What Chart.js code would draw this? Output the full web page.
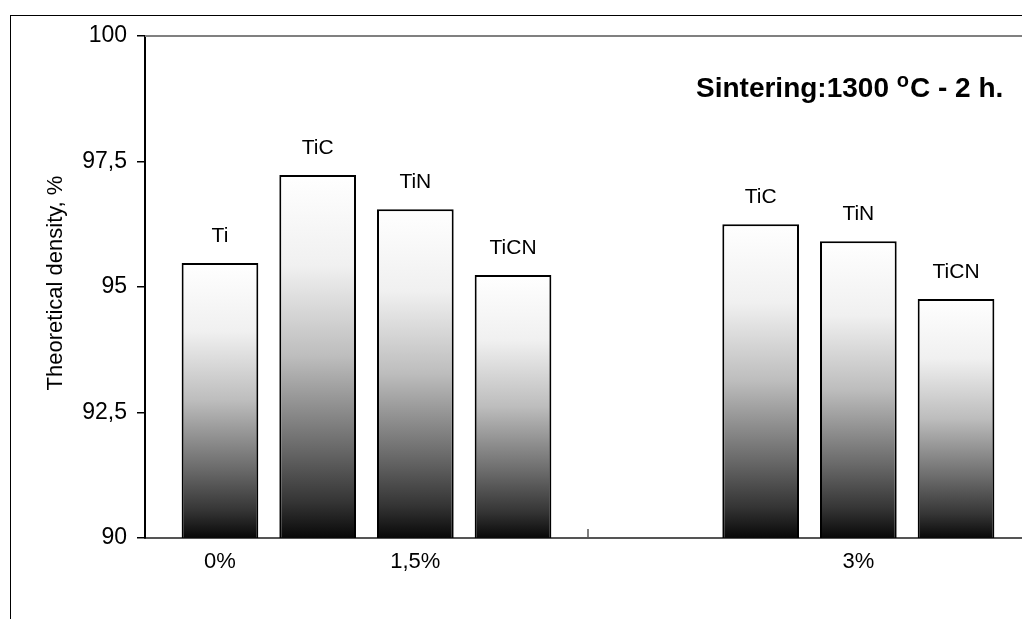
<!DOCTYPE html>
<html>
<head>
<meta charset="utf-8">
<script src="https://cdn.jsdelivr.net/npm/chart.js@4/dist/chart.umd.min.js"></script>
<style>
    html, body { margin: 0; padding: 0; background: #fff; overflow: hidden; }
    #frame {
        position: absolute; left: 10px; top: 15px; width: 1100px; height: 700px;
        border-left: 1.5px solid #000; border-top: 1.5px solid #000;
    }
    #chart { position: absolute; left: 0; top: 0; }
</style>
</head>
<body>
<div id="frame"></div>
<canvas id="chart" width="1060" height="619"></canvas>
<script>
// two clusters on the axis: 0% / 1,5% share the first, 3% is the second
const clusters = ['0% / 1,5%', '3%'];
const materials = ['Ti', 'TiC', 'TiN', 'TiCN'];
const densityTi = [95.48, null];
const densityTiC = [97.23, 96.25];
const densityTiN = [96.55, 95.91];
const densityTiCN = [95.24, 94.76];

// content labels under the bars, anchored at [cluster index, material index]
const contentLabels = ['0%', '1,5%', '3%'];
const contentAnchors = [[0, 0], [0, 2], [1, 2]];

const yTicks = [90, 92.5, 95, 97.5, 100];
const yTitle = 'Theoretical density, %';
const noteText = ['Sintering:1300 ', 'o', 'C - 2 h.'];

const FONT = '"Liberation Sans", Arial, sans-serif';
Chart.defaults.font.family = FONT;
Chart.defaults.color = '#000';

// white at top to black at bottom, per bar
const barGradient = c => {
    const chart = c.chart;
    if (!chart.chartArea || c.raw == null || c.type !== 'data') return '#888';
    const y = chart.scales.y;
    const top = y.getPixelForValue(c.raw);
    const bottom = y.getPixelForValue(y.min);
    const g = chart.ctx.createLinearGradient(0, top, 0, bottom);
    g.addColorStop(0, '#ffffff');
    g.addColorStop(0.25, '#f0f0f0');
    g.addColorStop(0.5, '#bdbdbd');
    g.addColorStop(0.75, '#6a6a6a');
    g.addColorStop(0.9, '#353535');
    g.addColorStop(1, '#080808');
    return g;
};

const seriesValues = [densityTi, densityTiC, densityTiN, densityTiCN];

const decorations = {
    id: 'decorations',
    beforeDatasetsDraw(chart) {
        const { ctx, chartArea: a } = chart;
        ctx.save();
        ctx.strokeStyle = '#808080';
        ctx.lineWidth = 2;
        ctx.beginPath();
        ctx.moveTo(a.left, a.top);
        ctx.lineTo(a.right, a.top);
        ctx.lineTo(a.right, a.bottom);
        ctx.stroke();
        // tick marks between clusters, pointing up
        const x = chart.scales.x;
        ctx.strokeStyle = '#555';
        ctx.lineWidth = 1.5;
        for (let i = 1; i < clusters.length; i++) {
            const px = (x.getPixelForTick(i - 1) + x.getPixelForTick(i)) / 2;
            ctx.beginPath();
            ctx.moveTo(px, a.bottom);
            ctx.lineTo(px, a.bottom - 9);
            ctx.stroke();
        }
        ctx.restore();
    },
    afterDraw(chart) {
        const { ctx, chartArea: a } = chart;
        ctx.save();
        ctx.fillStyle = '#000';
        ctx.textAlign = 'center';
        ctx.textBaseline = 'alphabetic';

        // material names above bars
        ctx.font = '21px ' + FONT;
        chart.data.datasets.forEach((ds, i) => {
            chart.getDatasetMeta(i).data.forEach((bar, j) => {
                if (ds.data[j] == null) return;
                ctx.fillText(ds.label, bar.x, bar.y - 21);
            });
        });

        // content labels under the axis
        ctx.font = '22px ' + FONT;
        contentLabels.forEach((t, k) => {
            const [cl, m] = contentAnchors[k];
            const bar = chart.getDatasetMeta(m).data[cl];
            ctx.fillText(t, bar.x, a.bottom + 30);
        });

        // y axis title
        ctx.save();
        ctx.translate(54, (a.top + a.bottom) / 2 - 4);
        ctx.rotate(-Math.PI / 2);
        ctx.font = '22px ' + FONT;
        ctx.fillText(yTitle, 0, 8);
        ctx.restore();

        // sintering note
        ctx.textAlign = 'left';
        let nx = 696;
        const ny = 97;
        ctx.font = 'bold 28px ' + FONT;
        ctx.fillText(noteText[0], nx, ny);
        nx += ctx.measureText(noteText[0]).width;
        ctx.font = 'bold 20px ' + FONT;
        ctx.fillText(noteText[1], nx, ny - 10);
        nx += ctx.measureText(noteText[1]).width + 1;
        ctx.font = 'bold 28px ' + FONT;
        ctx.fillText(noteText[2], nx, ny);
        ctx.restore();
    }
};

new Chart(document.getElementById('chart'), {
    type: 'bar',
    data: {
        labels: clusters,
        datasets: materials.map((m, i) => ({
            label: m,
            data: seriesValues[i],
            backgroundColor: barGradient,
            borderColor: '#000',
            borderWidth: 2,
            borderSkipped: false,
            categoryPercentage: 0.882,
            barPercentage: 0.785
        }))
    },
    options: {
        responsive: false,
        animation: false,
        devicePixelRatio: 1,
        layout: { padding: { top: 36, right: 29, bottom: 0, left: 0 } },
        plugins: { legend: { display: false }, tooltip: { enabled: false } },
        scales: {
            x: {
                ticks: { display: false },
                grid: { display: false },
                border: { display: true, color: '#555', width: 2 },
                afterFit: s => { s.height = 81; }
            },
            y: {
                min: 90,
                max: 100,
                afterBuildTicks: s => { s.ticks = yTicks.map(v => ({ value: v })); },
                ticks: {
                    padding: 10,
                    font: { size: 23 },
                    color: '#000',
                    callback: v => String(v).replace('.', ',')
                },
                grid: { drawOnChartArea: false, drawTicks: true, tickLength: 8, color: '#000', lineWidth: 1.5 },
                border: { display: true, color: '#000', width: 2 },
                afterFit: s => { s.width = 145; }
            }
        }
    },
    plugins: [decorations]
});
</script>
</body>
</html>
